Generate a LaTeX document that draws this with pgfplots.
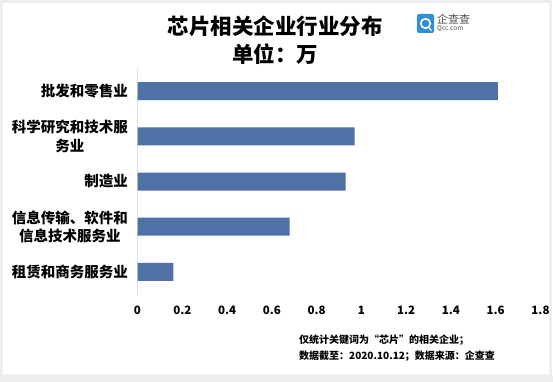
\documentclass[border=0pt]{standalone}
\usepackage{pgfplots}
\pgfplotsset{compat=1.18}
\usepackage{fontspec}
\setmainfont{Noto Sans CJK SC}
\definecolor{barblue}{HTML}{4F71A6}
\definecolor{logoblue}{HTML}{2F8FD6}
\definecolor{framegray}{HTML}{EEEEEE}
\begin{document}
\begin{tikzpicture}[x=1pt,y=1pt]
\path[fill=white] (0,0) rectangle (553,382);
\draw[framegray,line width=2.5pt] (1.5,7) rectangle (550.5,380.5);
\fill[framegray] (0,0) rectangle (553,6);
% title
\node[font=\fontsize{21.5}{24}\selectfont\bfseries] at (275,356) {芯片相关企业行业分布};
\node[font=\fontsize{21.5}{24}\selectfont\bfseries] at (275,328) {单位：万};
% logo
\fill[logoblue,rounded corners=2pt] (417,349) rectangle (434,368);
\draw[white,line width=1.6pt] (425.5,358.5) circle (4.8);
\draw[white,line width=1.2pt] (428.5,354.5) -- (431.5,351.5);
\node[anchor=west,font=\fontsize{11}{12}\selectfont,text=black!70,inner sep=0] at (437,363) {企查查};
\node[anchor=west,font=\fontsize{6.5}{7}\selectfont,text=black!70,inner sep=0] at (437,353) {Qcc.com};
% footer
\node[anchor=west,inner sep=0,font=\fontsize{10}{12}\selectfont\bfseries] at (299,42) {仅统计关键词为“芯片”的相关企业；};
\node[anchor=west,inner sep=0,font=\fontsize{10}{12}\selectfont\bfseries] at (299,26) {数据截至：2020.10.12；数据来源：企查查};
\begin{axis}[
  at={(137.5pt,87.4pt)}, anchor=south west,
  scale only axis, width=403pt, height=226.2pt,
  xmin=0, xmax=1.8, ymin=-0.5, ymax=4.5, y dir=reverse,
  axis x line*=bottom, axis y line*=left,
  x axis line style={draw=none},
  y axis line style={draw=black!12, line width=0.8pt},
  major tick length=0pt,
  xtick={0,0.2,0.4,0.6,0.8,1,1.2,1.4,1.6,1.8},
  xticklabels={0,0.2,0.4,0.6,0.8,1,1.2,1.4,1.6,1.8},
  xticklabel style={font=\fontsize{11.5}{12}\selectfont\bfseries, yshift=-8pt},
  ytick={0,1,2,3,4},
  yticklabels={{批发和零售业},{科学研究和技术服\\务业},{制造业},{信息传输、软件和\\信息技术服务业},{租赁和商务服务业}},
  yticklabel style={font=\fontsize{14.5}{18.5}\selectfont\bfseries, align=center, xshift=-6pt},
  xbar, bar width=18pt,
  clip=false,
]
\addplot[fill=barblue, draw=none] coordinates {(1.61,0) (0.97,1) (0.93,2) (0.68,3) (0.16,4)};
\end{axis}
\end{tikzpicture}
\end{document}
